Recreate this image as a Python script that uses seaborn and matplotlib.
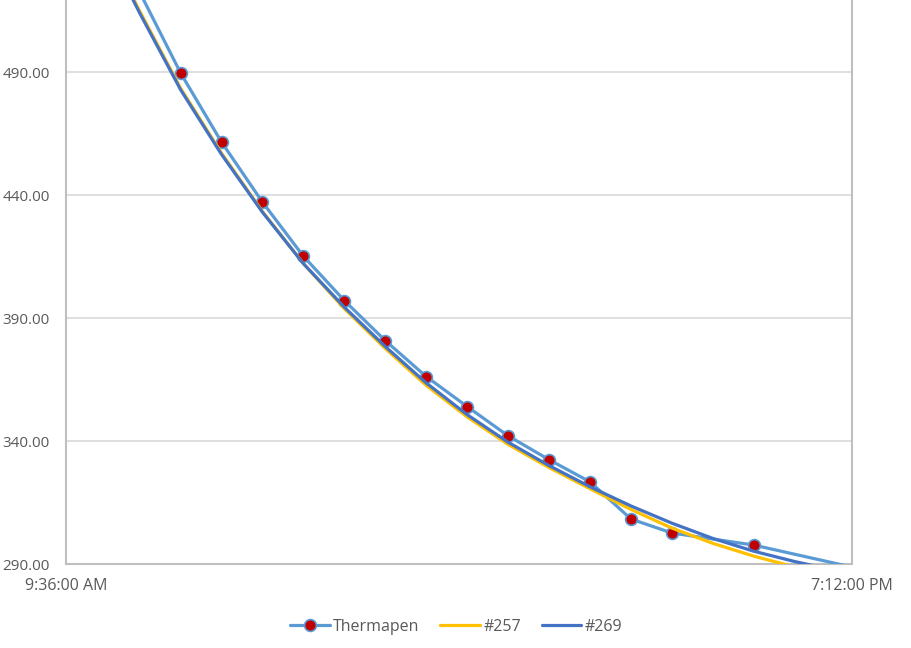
import numpy as np
import pandas as pd
import matplotlib
matplotlib.use("Agg")
import matplotlib.pyplot as plt
import matplotlib.dates as mdates
import seaborn as sns

# thermapen spot readings
therm_times = ["10:30", "11:00", "11:30", "12:00", "12:30", "13:00", "13:30", "14:00",
               "14:30", "15:00", "15:30", "16:00", "16:30", "17:00", "18:00", "19:30"]
therm_vals = [522.5, 489.6, 461.5, 437.1, 415.1, 397.1, 380.8, 366.2,
              354.0, 342.1, 332.4, 323.4, 308.3, 302.6, 297.7, 286.5]

# probe loggers, read every 30 min
probe_times = ["10:00", "10:30", "11:00", "11:30", "12:00", "12:30", "13:00", "13:30",
               "14:00", "14:30", "15:00", "15:30", "16:00", "16:30", "17:00", "17:30",
               "18:00", "18:30", "19:00", "19:30"]
p257 = [548.0, 514.8, 483.4, 457.0, 433.3, 412.1, 393.8, 377.6, 362.6, 349.8,
        338.6, 329.2, 320.6, 312.2, 304.6, 298.4, 293.2, 288.8, 285.0, 281.8]
p269 = [547.0, 514.0, 482.8, 456.5, 433.0, 412.1, 394.4, 378.4, 363.6, 350.7,
        339.5, 330.0, 321.4, 313.6, 306.6, 300.4, 295.2, 291.0, 287.4, 284.4]

x_start, x_end = "09:36", "19:12"
y_ticks = [290, 340, 390, 440, 490]

day = "2020-01-01 "
therm = pd.DataFrame({"time": pd.to_datetime([day + t for t in therm_times]), "temp": therm_vals})
probes = pd.DataFrame({"time": pd.to_datetime([day + t for t in probe_times]),
                       "#257": p257, "#269": p269})

sns.set_style("white")
plt.rcParams["font.family"] = ["Open Sans", "DejaVu Sans"]

fig = plt.figure(figsize=(9.12, 6.48), dpi=100)
ax = fig.add_axes([66 / 912, 84 / 648, 786 / 912, 564 / 648])

sns.lineplot(data=therm, x="time", y="temp", ax=ax, color="#5B9BD5", lw=2.3,
             marker="o", markersize=8.5, markerfacecolor="#C00000",
             markeredgecolor="#5B9BD5", markeredgewidth=1.2, label="Thermapen", zorder=3)
sns.lineplot(data=probes, x="time", y="#257", ax=ax, color="#FFC000", lw=2.3,
             label="#257", zorder=4)
sns.lineplot(data=probes, x="time", y="#269", ax=ax, color="#4472C4", lw=2.3,
             label="#269", zorder=5)

ax.set_xlim(pd.Timestamp(day + x_start), pd.Timestamp(day + x_end))
ax.set_ylim(290, 519.3)
ax.set_xticks([pd.Timestamp(day + x_start), pd.Timestamp(day + x_end)])
ax.xaxis.set_major_formatter(mdates.DateFormatter("%-I:%M:%S %p"))
ax.set_yticks(y_ticks)
ax.set_yticklabels([f"{v:.2f}" for v in y_ticks])
ax.set_xlabel("")
ax.set_ylabel("")

ax.grid(axis="y", color="#D9D9D9", lw=1.2)
ax.grid(axis="x", visible=False)
ax.set_axisbelow(True)
for s in ["left", "right", "bottom"]:
    ax.spines[s].set_color("#BFBFBF")
    ax.spines[s].set_linewidth(1.5)
ax.spines["top"].set_visible(False)
ax.tick_params(axis="y", length=0, pad=11.5, labelsize=11, labelcolor="#595959")
ax.tick_params(axis="x", length=0, pad=10, labelsize=11.5, labelcolor="#595959")

ax.get_legend().remove()
h, l = ax.get_legend_handles_labels()
leg = fig.legend(h, l, loc="center", bbox_to_anchor=(0.5, 1 - 627 / 648), ncol=3,
                 frameon=False, fontsize=11.5, handlelength=2.5, handletextpad=0.2,
                 columnspacing=1.3)
for t in leg.get_texts():
    t.set_color("#595959")

fig.savefig("out.png", dpi=100)
